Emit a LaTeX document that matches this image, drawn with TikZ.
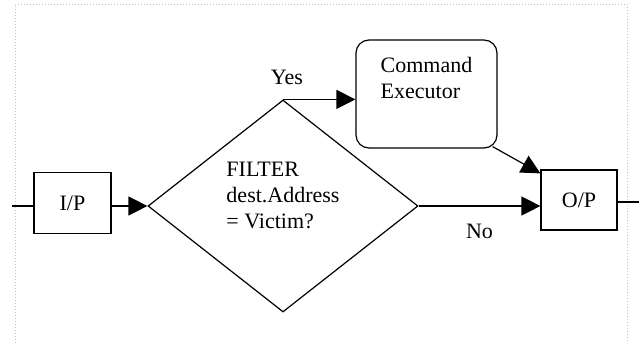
\documentclass[tikz,border=0pt]{standalone}
\usepackage{fontspec}
\setmainfont{Liberation Serif}
\usetikzlibrary{positioning,arrows.meta,shapes.geometric}
\tikzset{>={Triangle[length=19pt,width=19pt]}}

\begin{document}
\begin{tikzpicture}[x=1pt, y=-1pt, line width=1.2pt,
  box/.style={draw, minimum width=77pt, minimum height=61pt, inner sep=0pt, font=\fontsize{22}{26}\selectfont},
  cmdbox/.style={draw, rounded corners=13pt, minimum width=141pt, minimum height=108pt, inner sep=0pt, align=left, font=\fontsize{22}{26.5}\selectfont},
  dec/.style={draw, diamond, minimum width=270pt, minimum height=212pt, inner sep=0pt, align=left, font=\fontsize{22}{26}\selectfont},
  lab/.style={inner sep=0pt, font=\fontsize{22}{26}\selectfont}]
\useasboundingbox (0,0) rectangle (639,343);
% page frame
\draw[gray!50, line width=0.8pt, dash pattern=on 1pt off 2pt] (15,343) -- (15,4) -- (627,4) -- (627,343);
\node[box] (ip) at (72.5,203) {I/P};
\node[dec] (filter) at (283,206) {FILTER\\dest.Address\\= Victim?\\[-5pt]};
\node[cmdbox] (cmd) at (426.5,94) {Command\\Executor\\[6pt]};
\node[box, minimum width=76pt, minimum height=60pt] (op) at (579,200) {O/P};
\coordinate (in) at (12,206);
\coordinate (out) at (639,202);
\draw (in) -- (in -| ip.west); \draw[->] (ip.east |- in) -- (filter.west);
\draw[->] (filter.north) -- node[lab, above=14pt, xshift=4pt, pos=0] {Yes} (filter.north -| cmd.west);
\draw[->] (filter.east) -- node[lab, below=17pt] {No} (filter.east -| op.west);
\draw[->] ([xshift=-5pt, yshift=2pt]cmd.south east) -- ([yshift=-4pt]op.north west);
\draw (op.east |- out) -- (out);
\end{tikzpicture}
\end{document}
